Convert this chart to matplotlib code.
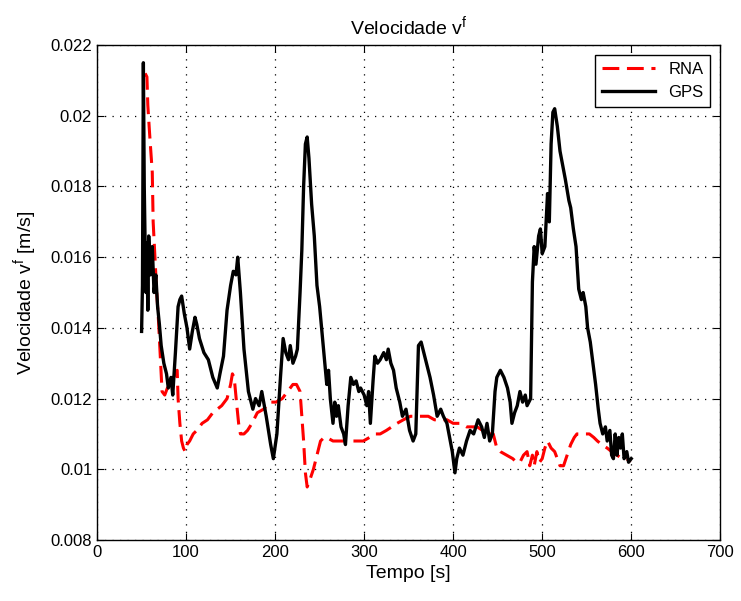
import matplotlib.pyplot as plt
import numpy as np

plt.rcParams['font.family'] = ['Liberation Sans', 'DejaVu Sans']
plt.rcParams['mathtext.default'] = 'regular'

# === データ (画像から読み取り: 時刻, 速度) ===
gps_points = [
    (50, 0.0139), (51, 0.0152), (52, 0.0215), (53, 0.0180), (54, 0.0163), (55, 0.0150),
    (56, 0.0164), (57, 0.0145), (58, 0.0166), (60, 0.0155), (62, 0.0163), (64, 0.0150),
    (66, 0.0155), (68, 0.0146), (70, 0.0141), (72, 0.0135), (75, 0.0130), (78, 0.0127),
    (80, 0.0123), (83, 0.0126), (85, 0.0121), (88, 0.0133), (91, 0.0146), (93, 0.0148),
    (95, 0.0149), (98, 0.0144), (101, 0.0140), (104, 0.0134), (107, 0.0139), (110, 0.0143),
    (112, 0.0141), (115, 0.0137), (120, 0.0133), (125, 0.0131), (130, 0.0126), (135, 0.0123),
    (138, 0.0127), (142, 0.0132), (146, 0.0145), (150, 0.0152), (153, 0.0156), (156, 0.0155),
    (158, 0.0160), (161, 0.0150), (165, 0.0134), (170, 0.0122), (175, 0.0117), (178, 0.0120),
    (182, 0.0118), (185, 0.0122), (190, 0.0115), (195, 0.0107), (198, 0.0103), (202, 0.0110),
    (206, 0.0126), (209, 0.0137), (212, 0.0133), (215, 0.0131), (217, 0.0135), (220, 0.0130),
    (223, 0.0132), (225, 0.0134), (228, 0.0150), (230, 0.0162), (232, 0.0180), (234, 0.0192),
    (236, 0.0194), (238, 0.0188), (241, 0.0175), (244, 0.0166), (247, 0.0152), (250, 0.0146),
    (254, 0.0135), (258, 0.0124), (260, 0.0128), (262, 0.0120), (265, 0.0113), (267, 0.0119),
    (269, 0.0115), (271, 0.0118), (274, 0.0112), (277, 0.0110), (279, 0.0107), (282, 0.0118),
    (285, 0.0126), (288, 0.0124), (291, 0.0125), (294, 0.0122), (296, 0.0123), (300, 0.0121),
    (303, 0.0118), (305, 0.0122), (307, 0.0113), (310, 0.0125), (312, 0.0132), (315, 0.0130),
    (318, 0.0131), (322, 0.0133), (325, 0.0131), (327, 0.0134), (330, 0.0130), (333, 0.0128),
    (336, 0.0123), (340, 0.0119), (343, 0.0115), (347, 0.0117), (351, 0.0111), (355, 0.0108),
    (358, 0.0110), (361, 0.0135), (364, 0.0136), (366, 0.0134), (370, 0.0130), (374, 0.0126),
    (378, 0.0121), (382, 0.0115), (386, 0.0117), (389, 0.0115), (393, 0.0113), (396, 0.0109),
    (399, 0.0105), (402, 0.0099), (404, 0.0103), (407, 0.0106), (411, 0.0104), (415, 0.0108),
    (419, 0.0111), (423, 0.0110), (428, 0.0114), (432, 0.0112), (435, 0.0109), (438, 0.0113),
    (441, 0.0108), (444, 0.0110), (447, 0.0122), (449, 0.0126), (453, 0.0128), (457, 0.0126),
    (461, 0.0123), (464, 0.0119), (466, 0.0113), (469, 0.0116), (472, 0.0118), (475, 0.0122),
    (478, 0.0119), (481, 0.0121), (483, 0.0118), (487, 0.0120), (489, 0.0153), (491, 0.0163),
    (493, 0.0158), (496, 0.0166), (498, 0.0168), (500, 0.0161), (503, 0.0163), (506, 0.0178),
    (508, 0.0170), (510, 0.0192), (512, 0.0201), (514, 0.0202), (517, 0.0197), (520, 0.0190),
    (523, 0.0186), (526, 0.0182), (528, 0.0179), (530, 0.0176), (532, 0.0174), (535, 0.0168),
    (538, 0.0163), (541, 0.0151), (544, 0.0148), (546, 0.0150), (549, 0.0146), (551, 0.0140),
    (554, 0.0136), (557, 0.0130), (560, 0.0124), (563, 0.0117), (565, 0.0113), (568, 0.0110),
    (571, 0.0112), (573, 0.0108), (576, 0.0111), (578, 0.0104), (580, 0.0103), (582, 0.0110),
    (584, 0.0104), (586, 0.0109), (588, 0.0106), (590, 0.0110), (592, 0.0103), (595, 0.0105),
    (597, 0.0102), (600, 0.0103),
]

rna_points = [
    (54, 0.0212), (56, 0.0211), (57, 0.0203), (59, 0.0195), (62, 0.0184), (63, 0.0170),
    (65, 0.0160), (67, 0.0150), (69, 0.0142), (71, 0.0132), (73, 0.0122), (76, 0.0121),
    (79, 0.0123), (82, 0.0124), (86, 0.0126), (90, 0.0128), (91, 0.0120), (93, 0.0113),
    (95, 0.0108), (97, 0.0106), (99, 0.0105), (101, 0.0107), (104, 0.0108), (108, 0.0110),
    (112, 0.0111), (118, 0.0113), (124, 0.0114), (130, 0.0116), (135, 0.0117), (140, 0.0118),
    (146, 0.0120), (150, 0.0124), (152, 0.0127), (154, 0.0126), (157, 0.0118), (159, 0.0113),
    (161, 0.0110), (165, 0.0110), (169, 0.0111), (174, 0.0113), (180, 0.0116), (187, 0.0117),
    (194, 0.0119), (201, 0.0119), (208, 0.0120), (214, 0.0122), (220, 0.0124), (224, 0.0124),
    (228, 0.0122), (230, 0.0115), (232, 0.0108), (234, 0.0099), (236, 0.0095), (239, 0.0097),
    (243, 0.0100), (247, 0.0104), (251, 0.0108), (255, 0.0109), (258, 0.0109), (265, 0.0108),
    (271, 0.0108), (277, 0.0108), (285, 0.0108), (292, 0.0108), (299, 0.0108), (306, 0.0109),
    (312, 0.0110), (318, 0.0110), (325, 0.0111), (331, 0.0112), (337, 0.0113), (344, 0.0114),
    (352, 0.0115), (358, 0.0115), (365, 0.0115), (372, 0.0115), (379, 0.0114), (386, 0.0114),
    (393, 0.0114), (400, 0.0113), (408, 0.0113), (415, 0.0112), (421, 0.0112), (427, 0.0112),
    (433, 0.0111), (439, 0.0110), (445, 0.0110), (449, 0.0106), (453, 0.0105), (460, 0.0104),
    (467, 0.0103), (471, 0.0102), (475, 0.0102), (479, 0.0104), (483, 0.0105), (486, 0.0101),
    (489, 0.0104), (491, 0.0101), (494, 0.0105), (497, 0.0102), (500, 0.0103), (503, 0.0106),
    (506, 0.0108), (510, 0.0106), (514, 0.0105), (517, 0.0103), (520, 0.0101), (524, 0.0101),
    (528, 0.0104), (532, 0.0107), (536, 0.0109), (539, 0.0110), (543, 0.0110), (548, 0.0110),
    (553, 0.0110), (558, 0.0109), (562, 0.0108), (567, 0.0107), (573, 0.0106), (578, 0.0105),
    (584, 0.0104), (590, 0.0103), (595, 0.0103), (599, 0.0102),
]

gps_t = [p[0] for p in gps_points]
gps_v = [p[1] for p in gps_points]
rna_t = [p[0] for p in rna_points]
rna_v = [p[1] for p in rna_points]

x_ticks = [0, 100, 200, 300, 400, 500, 600, 700]
y_ticks = [0.008, 0.01, 0.012, 0.014, 0.016, 0.018, 0.02, 0.022]
y_labels = ['0.008', '0.01', '0.012', '0.014', '0.016', '0.018', '0.02', '0.022']

# === グラフ描画 ===
fig = plt.figure(figsize=(7.41, 6.01), dpi=100)
ax = fig.add_axes([0.131, 0.1015, 0.841, 0.8235])

ax.plot(rna_t, rna_v, color='red', linestyle=(0, (5.5, 2.5)), linewidth=2.2, label='RNA')
ax.plot(gps_t, gps_v, color='black', linewidth=2.4, label='GPS')

ax.set_xlim(0, 700)
ax.set_ylim(0.008, 0.022)
ax.set_xticks(x_ticks)
ax.set_yticks(y_ticks)
ax.set_yticklabels(y_labels)
ax.tick_params(direction='in', top=True, right=True, labelsize=12, length=5, colors='black')
ax.grid(True, color='black', linestyle=(0, (1, 5)), linewidth=0.9)
for s in ax.spines.values():
    s.set_linewidth(1.0)

ax.set_xlabel('Tempo [s]', fontsize=14)
ax.set_ylabel('Velocidade v$^f$ [m/s]', fontsize=14, labelpad=8)
ax.set_title('Velocidade v$^f$', fontsize=14, pad=8)

leg = ax.legend(loc='upper right', fontsize=12, fancybox=False, framealpha=1,
                edgecolor='black', handlelength=3.2, borderaxespad=0.6)
leg.get_frame().set_linewidth(1)

plt.savefig('out.png', dpi=100)
